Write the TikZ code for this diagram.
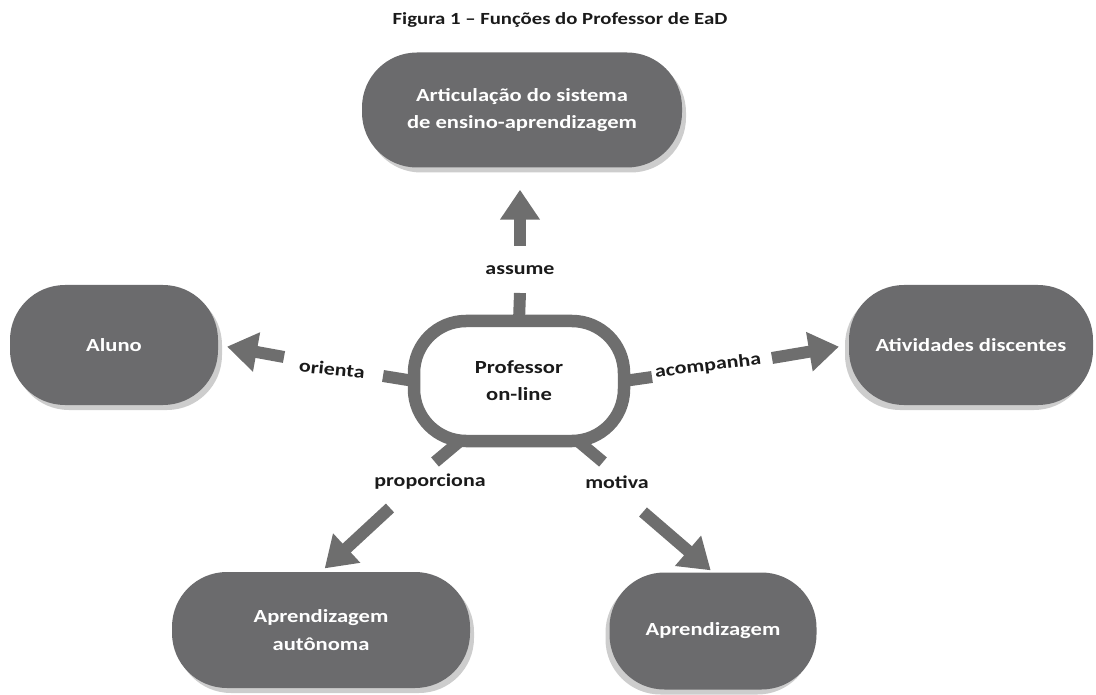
\documentclass[tikz,border=0pt]{standalone}
\usepackage{fontspec}
\setmainfont{Carlito}[FakeStretch=1.22]
\usetikzlibrary{arrows.meta,shadows,calc}
\definecolor{boxgray}{HTML}{6B6B6D}
\definecolor{arrgray}{HTML}{6E6E6E}
\definecolor{shadowgray}{HTML}{CDCDCD}
\definecolor{labelcol}{HTML}{1A1A1A}
\begin{document}
\begin{tikzpicture}[x=1pt,y=-1pt,
  box/.style={rectangle, rounded corners=55pt, fill=boxgray, text=white, align=center,
    font=\bfseries\fontsize{18.5}{27.5}\selectfont, inner sep=0pt},
  shadowR/.style={drop shadow={shadow xshift=4pt, shadow yshift=-5pt, fill=shadowgray, opacity=1}},
  shadowL/.style={drop shadow={shadow xshift=-4pt, shadow yshift=-5pt, fill=shadowgray, opacity=1}},
  centerbox/.style={rectangle, rounded corners=52pt, draw=arrgray, line width=12.5pt, fill=white,
    minimum width=210pt, minimum height=120pt, inner sep=0pt, outer sep=0pt, align=center,
    font=\bfseries\fontsize{18.5}{27}\selectfont, text=labelcol},
  stub/.style={draw=arrgray, line width=12pt},
  arr/.style={draw=arrgray, line width=12pt, -{Triangle[length=30pt,width=38pt]}},
  lbl/.style={font=\bfseries\fontsize{18}{22}\selectfont, text=labelcol, inner sep=0pt},
  ttl/.style={font=\bfseries\fontsize{17}{20}\selectfont, text=labelcol, inner sep=0pt}]
\useasboundingbox (0,0) rectangle (1096,695);

% title
\node[ttl] (title) at (560,20) {Figura 1 – Funções do Professor de EaD};

% outer boxes
\node[box, shadowR, minimum width=320pt, minimum height=115pt] (top) at (522,110)
  {Articulação do sistema\\de ensino-aprendizagem};
\node[box, shadowR, minimum width=208pt, minimum height=120pt] (aluno) at (114,345) {Aluno};
\node[box, shadowL, minimum width=244pt, minimum height=120pt] (ativ) at (971,345) {Atividades discentes};
\node[box, shadowR, minimum width=298pt, minimum height=116pt] (aut) at (321,630)
  {Aprendizagem\\autônoma};
\node[box, shadowL, minimum width=207pt, minimum height=117pt] (apr) at (713,631) {Aprendizagem};

% center
\node[centerbox] (c) at (519,381) {Professor\\on-line};

% stub ends
\coordinate (sT) at (520,293);
\coordinate (sL) at (383,376);
\coordinate (sR) at (652,377);
\coordinate (sBL) at (435,462);
\coordinate (sBR) at (603,462);
\draw[stub] (c.north) -- (sT);
\draw[stub] (c.west) -- (sL);
\draw[stub] (c.east) -- (sR);
\draw[stub] ([xshift=46pt]c.south west) -- (sBL);
\draw[stub] ([xshift=-46pt]c.south east) -- (sBR);

% labels
\node[lbl] (lA) at (520,270) {assume};
\node[lbl, rotate=-6] (lO) at (332,369) {orienta};
\node[lbl, rotate=7] (lC) at (708,366) {acompanha};
\node[lbl] (lP) at (430,482) {proporciona};
\node[lbl] (lM) at (617,482) {motiva};

% arrow starts
\coordinate (aT) at (520,246);
\coordinate (aL) at (284,357);
\coordinate (aR) at (772,358);
\coordinate (aBL) at (390,508);
\coordinate (aBR) at (643,512);
\draw[arr, shorten >=22pt] (aT) -- (aT |- top.south);
\draw[arr, shorten >=9pt] (aL) -- (aluno.east);
\draw[arr, shorten >=10pt] (aR) -- (ativ.west);
\draw[arr, shorten >=5pt] (aBL) -- (aut.north);
\draw[arr, shorten >=3pt] (aBR) -- (apr.north);
\end{tikzpicture}
\end{document}
